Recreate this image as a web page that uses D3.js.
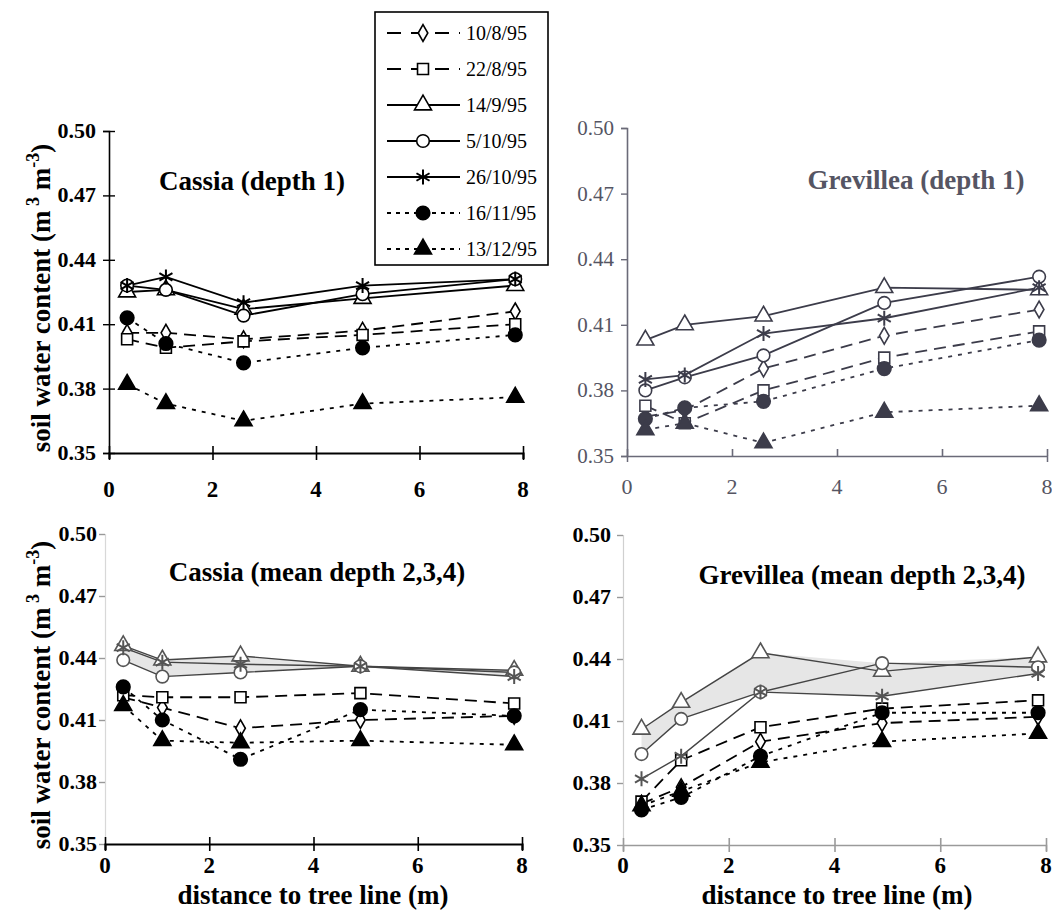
<!DOCTYPE html>
<html>
<head>
<meta charset="utf-8">
<script src="https://cdn.jsdelivr.net/npm/d3@7"></script>
<style>
  body { margin: 0; background: #fff; }
  svg { display: block; font-family: "Liberation Serif", "Times New Roman", serif; }
</style>
</head>
<body>
<svg id="chart" width="1052" height="913"></svg>
<script>
// distances of the sampling points from the tree line (m)
const distances = [0.35, 1.1, 2.6, 4.9, 7.85];
const dates = ["10/8/95", "22/8/95", "14/9/95", "5/10/95", "26/10/95", "16/11/95", "13/12/95"];
const xTicks = [0, 2, 4, 6, 8];
const yTicks = [0.35, 0.38, 0.41, 0.44, 0.47, 0.50];

// one row per date, same order as dates
const cassiaDepth1 = [
  [0.406, 0.406, 0.403, 0.407, 0.416],
  [0.403, 0.399, 0.402, 0.405, 0.410],
  [0.425, 0.426, 0.417, 0.422, 0.428],
  [0.428, 0.426, 0.414, 0.424, 0.431],
  [0.428, 0.432, 0.420, 0.428, 0.431],
  [0.413, 0.401, 0.392, 0.399, 0.405],
  [0.382, 0.373, 0.365, 0.373, 0.376]
];
const grevilleaDepth1 = [
  [0.368, 0.371, 0.390, 0.405, 0.417],
  [0.373, 0.365, 0.380, 0.395, 0.407],
  [0.403, 0.410, 0.414, 0.427, 0.426],
  [0.380, 0.386, 0.396, 0.420, 0.432],
  [0.385, 0.387, 0.406, 0.413, 0.427],
  [0.367, 0.372, 0.375, 0.390, 0.403],
  [0.362, 0.365, 0.356, 0.370, 0.373]
];
const cassiaMean = [
  [0.421, 0.416, 0.406, 0.410, 0.412],
  [0.422, 0.421, 0.421, 0.423, 0.418],
  [0.446, 0.439, 0.441, 0.436, 0.434],
  [0.439, 0.431, 0.433, 0.436, 0.433],
  [0.445, 0.438, 0.437, 0.436, 0.431],
  [0.426, 0.410, 0.391, 0.415, 0.412],
  [0.417, 0.400, 0.399, 0.400, 0.398]
];
const grevilleaMean = [
  [0.370, 0.378, 0.400, 0.409, 0.412],
  [0.371, 0.391, 0.407, 0.416, 0.420],
  [0.406, 0.419, 0.443, 0.434, 0.441],
  [0.394, 0.411, 0.424, 0.438, 0.436],
  [0.382, 0.393, 0.424, 0.422, 0.433],
  [0.367, 0.373, 0.393, 0.414, 0.414],
  [0.369, 0.376, 0.390, 0.400, 0.404]
];
// series that bounds the grey band from below in the Grevillea (mean) panel
const grevBandLower = [3, 3, 4, 4, 4];

const styles = [
  { dash: "12,7", marker: "diamond", fill: false },
  { dash: "12,7", marker: "square", fill: false },
  { dash: null, marker: "triangle", fill: false },
  { dash: null, marker: "circle", fill: false },
  { dash: null, marker: "star", fill: false },
  { dash: "4,6", marker: "circle", fill: true },
  { dash: "4,6", marker: "triangle", fill: true }
];

const panels = [
  { data: cassiaDepth1, title: "Cassia (depth 1)", tx: 252, ty: 190,
    x0: 109, x1: 523, yb: 453, yt: 131, ink: "#000", text: "#000", bold: true,
    axis: "#000", tick: "cross", xlabY: 497, ylabX: 96, band: null },
  { data: grevilleaDepth1, title: "Grevillea (depth 1)", tx: 916, ty: 189,
    x0: 627, x1: 1047, yb: 456, yt: 128, ink: "#3c3c4a", text: "#555563", bold: false,
    axis: "#6a6a78", tick: "in", xlabY: 494, ylabX: 614, band: null },
  { data: cassiaMean, title: "Cassia (mean depth 2,3,4)", tx: 317, ty: 581,
    x0: 105, x1: 522, yb: 844, yt: 534, ink: "#000", text: "#000", bold: true,
    axis: "#000", yaxis: "#d8d8d8", tick: "cross", xlabY: 873, ylabX: 97, band: "minmax" },
  { data: grevilleaMean, title: "Grevillea (mean depth 2,3,4)", tx: 862, ty: 584,
    x0: 623, x1: 1046, yb: 845, yt: 535, ink: "#000", text: "#000", bold: true,
    axis: "#9a9a9a", yaxis: "#d0d0d0", tick: "cross", xlabY: 873, ylabX: 611, band: "grev" }
];

const svg = d3.select("#chart");

function markerPath(kind, size) {
  if (kind === "star") {
    const r = size;
    const a = r * 0.87, b = r * 0.5;
    return `M0,${-r}L0,${r}M${-a},${-b}L${a},${b}M${-a},${b}L${a},${-b}`;
  }
  const types = { diamond: d3.symbolDiamond, square: d3.symbolSquare,
                  triangle: d3.symbolTriangle, circle: d3.symbolCircle };
  const area = { diamond: 80, square: 120, triangle: 125, circle: 125 }[kind];
  return d3.symbol().type(types[kind]).size(area)();
}

function drawMarker(g, kind, filled, color, cx, cy) {
  const fill = filled ? color : "#fff";
  let d = markerPath(kind, 7.5);
  if (kind === "circle" && filled) d = d3.symbol().type(d3.symbolCircle).size(145)();
  g.append("path")
    .attr("d", d)
    .attr("transform", `translate(${cx},${cy})`)
    .attr("fill", kind === "star" ? "none" : fill)
    .attr("stroke", color)
    .attr("stroke-width", kind === "star" ? 2 : 1.6);
}

panels.forEach(p => {
  const x = d3.scaleLinear().domain([0, 8]).range([p.x0, p.x1]);
  const y = d3.scaleLinear().domain([0.35, 0.50]).range([p.yb, p.yt]);
  const g = svg.append("g");
  const weight = p.bold ? "bold" : "normal";

  // grey band between the top (solid) series
  if (p.band) {
    const solid = [2, 3, 4];
    const pts = distances.map((d, i) => {
      const vals = solid.map(s => p.data[s][i]);
      const hi = p.band === "grev" ? Math.max(p.data[2][i], p.data[3][i]) : d3.max(vals);
      const lo = p.band === "grev" ? p.data[grevBandLower[i]][i] : d3.min(vals);
      return { d, hi, lo };
    });
    g.append("path")
      .datum(pts)
      .attr("d", d3.area().x(v => x(v.d)).y0(v => y(v.lo)).y1(v => y(v.hi)))
      .attr("fill", "#e6e6e6");
  }

  // y axis
  const yAxis = d3.axisLeft(y).tickValues(yTicks).tickFormat("").tickSize(6);
  g.append("g").attr("transform", `translate(${p.x0},0)`).call(yAxis)
    .call(a => a.select(".domain").attr("stroke", p.yaxis || p.axis).attr("stroke-width", p.yaxis ? 1.2 : 1.6))
    .call(a => a.selectAll(".tick line").attr("stroke", p.yaxis ? "#999" : p.axis)
      .attr("stroke-width", 1.4).attr("x2", -6).attr("x1", p.tick === "cross" && !p.yaxis ? 6 : 0));
  g.selectAll(".ylab").data(yTicks).join("text")
    .attr("x", p.ylabX).attr("y", v => y(v) + 7)
    .attr("text-anchor", "end")
    .attr("font-size", p.bold ? 22 : 21).attr("font-weight", weight)
    .attr("fill", p.text)
    .text(d3.format(".2f"));

  // x axis
  const xAxis = d3.axisBottom(x).tickValues(xTicks).tickFormat("").tickSize(6);
  g.append("g").attr("transform", `translate(0,${p.yb})`).call(xAxis)
    .call(a => a.select(".domain").attr("stroke", p.axis).attr("stroke-width", p.axis === "#000" ? 2.2 : 1.5))
    .call(a => a.selectAll(".tick line").attr("stroke", p.axis).attr("stroke-width", 1.6)
      .attr("y1", -7).attr("y2", p.tick === "in" ? 0 : 7));
  g.selectAll(".xlab").data(xTicks).join("text")
    .attr("x", v => x(v)).attr("y", p.xlabY)
    .attr("text-anchor", "middle")
    .attr("font-size", p.bold ? 23 : 22).attr("font-weight", weight)
    .attr("fill", p.text)
    .text(d => d);

  // title
  g.append("text").attr("x", p.tx).attr("y", p.ty)
    .attr("text-anchor", "middle").attr("font-size", 27).attr("font-weight", "bold")
    .attr("fill", p.text).text(p.title);

  // series lines
  const line = d3.line().x((v, i) => x(distances[i])).y(v => y(v));
  p.data.forEach((vals, s) => {
    const st = styles[s];
    const solidGrey = p.band && !st.dash;
    g.append("path").datum(vals)
      .attr("d", line)
      .attr("fill", "none")
      .attr("stroke", solidGrey ? "#444" : p.ink)
      .attr("stroke-width", solidGrey ? 1.4 : 1.8)
      .attr("stroke-dasharray", st.dash);
  });
  p.data.forEach((vals, s) => {
    const st = styles[s];
    const col = p.band && !st.dash ? "#555" : p.ink;
    vals.forEach((v, i) => drawMarker(g, st.marker, st.fill, col, x(distances[i]), y(v)));
  });
});

// legend
const lg = svg.append("g");
lg.append("rect").attr("x", 375).attr("y", 12).attr("width", 173).attr("height", 253)
  .attr("fill", "#fff").attr("stroke", "#000").attr("stroke-width", 1.6);
const legY = d3.scalePoint().domain(dates).range([33, 249]);
dates.forEach((d, s) => {
  const st = styles[s];
  const yy = legY(d);
  const dash = st.dash ? (st.dash === "4,6" ? "4,5" : "14,10") : null;
  lg.append("line").attr("x1", 387).attr("x2", 460).attr("y1", yy).attr("y2", yy)
    .attr("stroke", "#000").attr("stroke-width", 2).attr("stroke-dasharray", dash);
  drawMarker(lg, st.marker, st.fill, "#000", 423, yy);
  lg.append("text").attr("x", 466).attr("y", yy + 7)
    .attr("font-size", 20).text(d);
});

// axis titles
function yTitle(cx, cy) {
  const t = svg.append("text")
    .attr("transform", `translate(${cx},${cy}) rotate(-90)`)
    .attr("text-anchor", "middle").attr("font-size", 27).attr("font-weight", "bold");
  t.append("tspan").text("soil water content (m");
  t.append("tspan").attr("dy", -11).attr("font-size", 18).text(" 3");
  t.append("tspan").attr("dy", 11).text("  m");
  t.append("tspan").attr("dy", -11).attr("font-size", 18).text("-3");
  t.append("tspan").attr("dy", 11).text(")");
}
yTitle(50, 298);
yTitle(50, 695);

[313, 837].forEach(cx => {
  svg.append("text").attr("x", cx).attr("y", 904)
    .attr("text-anchor", "middle").attr("font-size", 27).attr("font-weight", "bold")
    .text("distance to tree line (m)");
});
</script>
</body>
</html>
